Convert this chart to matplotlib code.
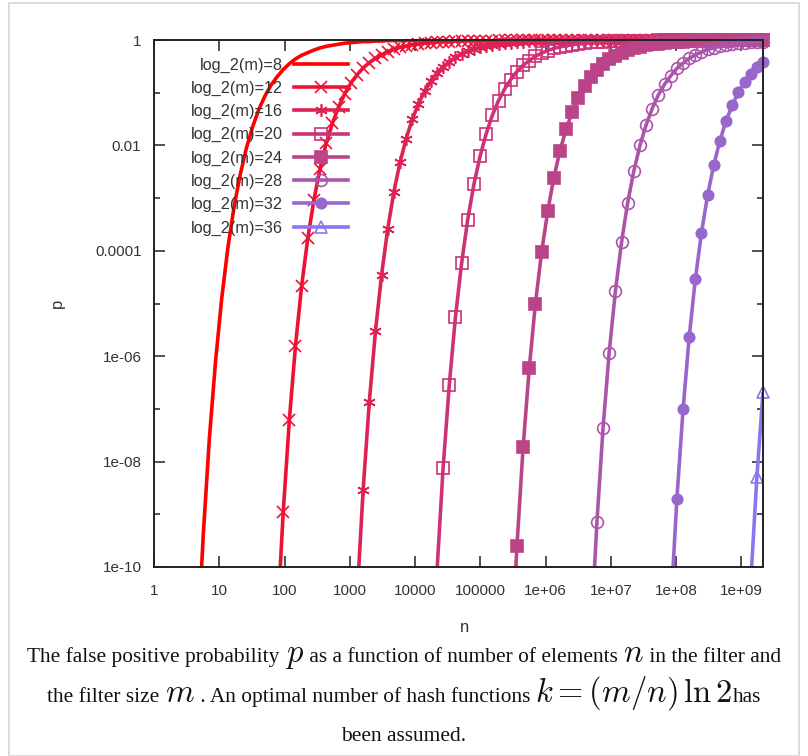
import numpy as np
import matplotlib
matplotlib.use('Agg')
import matplotlib.pyplot as plt
from matplotlib.lines import Line2D
from matplotlib.patches import Rectangle
from matplotlib.ticker import FixedLocator, NullLocator, NullFormatter

# log10(n) at the sample points (shared by all curves)
log_n = [0.000, 0.094, 0.189, 0.283, 0.377, 0.471, 0.566, 0.660, 0.754, 0.848,
         0.943, 1.037, 1.131, 1.225, 1.320, 1.414, 1.508, 1.602, 1.697, 1.791,
         1.885, 1.980, 2.074, 2.168, 2.262, 2.357, 2.451, 2.545, 2.639, 2.734,
         2.828, 2.922, 3.016, 3.111, 3.205, 3.299, 3.393, 3.488, 3.582, 3.676,
         3.770, 3.865, 3.959, 4.053, 4.148, 4.242, 4.336, 4.430, 4.525, 4.619,
         4.713, 4.807, 4.902, 4.996, 5.090, 5.184, 5.279, 5.373, 5.467, 5.561,
         5.656, 5.750, 5.844, 5.939, 6.033, 6.127, 6.221, 6.316, 6.410, 6.504,
         6.598, 6.693, 6.787, 6.881, 6.975, 7.070, 7.164, 7.258, 7.352, 7.447,
         7.541, 7.635, 7.729, 7.824, 7.918, 8.012, 8.107, 8.201, 8.295, 8.389,
         8.484, 8.578, 8.672, 8.766, 8.861, 8.955, 9.049, 9.143, 9.238, 9.332]

# log10(p) per curve, starting at sample index first_idx[k]
lp8 = [-11.69, -9.41, -7.57, -6.10, -4.91, -3.95, -3.18, -2.56, -2.06, -1.66,
       -1.33, -1.07, -0.86, -0.70, -0.56, -0.45, -0.36, -0.29, -0.24, -0.19,
       -0.15, -0.12, -0.10, -0.08, -0.06, -0.05, -0.04, -0.03, -0.03, -0.02,
       -0.02, -0.01, -0.01, -0.01, -0.01, -0.01,
       0.0, 0.0, 0.0, 0.0, 0.0, 0.0, 0.0, 0.0, 0.0, 0.0,
       0.0, 0.0, 0.0, 0.0, 0.0, 0.0, 0.0, 0.0, 0.0, 0.0,
       0.0, 0.0, 0.0, 0.0, 0.0, 0.0, 0.0, 0.0, 0.0, 0.0,
       0.0, 0.0, 0.0, 0.0, 0.0, 0.0, 0.0, 0.0, 0.0, 0.0,
       0.0, 0.0, 0.0, 0.0, 0.0, 0.0, 0.0, 0.0, 0.0, 0.0,
       0.0, 0.0, 0.0, 0.0, 0.0, 0.0, 0.0]
lp12 = [-11.13, -8.96, -7.21, -5.80, -4.67, -3.76, -3.03, -2.44, -1.96, -1.58,
        -1.27, -1.02, -0.82, -0.66, -0.53, -0.43, -0.35, -0.28, -0.22, -0.18,
        -0.14, -0.12, -0.09, -0.08, -0.06, -0.05, -0.04, -0.03, -0.03, -0.02,
        -0.02, -0.01, -0.01, -0.01, -0.01, -0.01,
        0.0, 0.0, 0.0, 0.0, 0.0, 0.0, 0.0, 0.0, 0.0, 0.0,
        0.0, 0.0, 0.0, 0.0, 0.0, 0.0, 0.0, 0.0, 0.0, 0.0,
        0.0, 0.0, 0.0, 0.0, 0.0, 0.0, 0.0, 0.0, 0.0, 0.0,
        0.0, 0.0, 0.0, 0.0, 0.0, 0.0, 0.0, 0.0, 0.0, 0.0,
        0.0, 0.0, 0.0, 0.0]
lp16 = [-10.60, -8.53, -6.87, -5.53, -4.45, -3.58, -2.88, -2.32, -1.87, -1.50,
        -1.21, -0.97, -0.78, -0.63, -0.51, -0.41, -0.33, -0.26, -0.21, -0.17,
        -0.14, -0.11, -0.09, -0.07, -0.06, -0.05, -0.04, -0.03, -0.02, -0.02,
        -0.02, -0.01, -0.01, -0.01, -0.01, -0.01,
        0.0, 0.0, 0.0, 0.0, 0.0, 0.0, 0.0, 0.0, 0.0, 0.0,
        0.0, 0.0, 0.0, 0.0, 0.0, 0.0, 0.0, 0.0, 0.0, 0.0,
        0.0, 0.0, 0.0, 0.0, 0.0, 0.0, 0.0, 0.0, 0.0, 0.0,
        0.0]
lp20 = [-10.09, -8.12, -6.54, -5.26, -4.24, -3.41, -2.74, -2.21, -1.78, -1.43,
        -1.15, -0.93, -0.75, -0.60, -0.48, -0.39, -0.31, -0.25, -0.20, -0.16,
        -0.13, -0.11, -0.09, -0.07, -0.06, -0.04, -0.04, -0.03, -0.02, -0.02,
        -0.02, -0.01, -0.01, -0.01, -0.01, -0.01,
        0.0, 0.0, 0.0, 0.0, 0.0, 0.0, 0.0, 0.0, 0.0, 0.0,
        0.0, 0.0, 0.0, 0.0, 0.0, 0.0, 0.0, 0.0]
lp24 = [-11.94, -9.61, -7.73, -6.23, -5.01, -4.03, -3.25, -2.61, -2.10, -1.69,
        -1.36, -1.10, -0.88, -0.71, -0.57, -0.46, -0.37, -0.30, -0.24, -0.19,
        -0.16, -0.13, -0.10, -0.08, -0.07, -0.05, -0.04, -0.03, -0.03, -0.02,
        -0.02, -0.01, -0.01, -0.01, -0.01, -0.01,
        0.0, 0.0, 0.0, 0.0, 0.0, 0.0]
lp28 = [-11.37, -9.15, -7.36, -5.93, -4.77, -3.84, -3.09, -2.49, -2.00, -1.61,
        -1.30, -1.04, -0.84, -0.68, -0.54, -0.44, -0.35, -0.28, -0.23, -0.18,
        -0.15, -0.12, -0.10, -0.08, -0.06, -0.05, -0.04, -0.03, -0.03]
lp32 = [-10.82, -8.71, -7.01, -5.64, -4.54, -3.66, -2.94, -2.37, -1.91, -1.53,
        -1.24, -0.99, -0.80, -0.64, -0.52, -0.42]
lp36 = [-10.31, -8.30, -6.68]

curves = [lp8, lp12, lp16, lp20, lp24, lp28, lp32, lp36]
first_idx = [7, 20, 33, 46, 58, 71, 84, 97]
labels = ['log_2(m)=8', 'log_2(m)=12', 'log_2(m)=16', 'log_2(m)=20',
          'log_2(m)=24', 'log_2(m)=28', 'log_2(m)=32', 'log_2(m)=36']

x_ticklabels = ['1', '10', '100', '1000', '10000', '100000',
                '1e+06', '1e+07', '1e+08', '1e+09']
y_ticklabels = ['1e-10', '1e-08', '1e-06', '0.0001', '0.01', '1']

colors = ['#ff0000', '#ee1133', '#dd2255', '#cc3377',
          '#bb4488', '#aa55aa', '#9966cc', '#8877ee']
markers = [None, 'x', (6, 2, 0), 's', 's', 'o', 'o', '^']
filled = [False, False, False, False, True, False, True, False]
msizes = [0, 8, 9, 8.5, 8, 8.5, 7.5, 9]

W, H = 808, 756
fig = plt.figure(figsize=(W / 100, H / 100), dpi=100)
ax = fig.add_axes([154 / W, 1 - 567 / H, (763 - 154) / W, (567 - 40) / H])

n_grid = 10.0 ** np.array(log_n)
handles = []
for lp, i0, lab, col, mk, fl, ms in zip(curves, first_idx, labels, colors,
                                         markers, filled, msizes):
    x = n_grid[i0:i0 + len(lp)]
    y = 10.0 ** np.array(lp)
    ax.plot(x, y, color=col, lw=2.6, solid_capstyle='butt')
    if mk is not None:
        ax.plot(x[1:], y[1:], ls='none', marker=mk, ms=ms, mew=1.2,
                mec=col, mfc=col if fl else 'none', clip_on=False)
    handles.append(Line2D([], [], color=col, lw=2.6, marker=mk, ms=ms,
                          mew=1.2, mec=col, mfc=col if fl else 'none'))

ax.set_xscale('log')
ax.set_yscale('log')
ax.set_xlim(1, 10 ** 9.332)
ax.set_ylim(1e-10, 1)

ax.xaxis.set_major_locator(FixedLocator([10.0 ** k for k in range(10)]))
ax.set_xticklabels(x_ticklabels)
ax.xaxis.set_minor_locator(NullLocator())
ax.yaxis.set_major_locator(FixedLocator([10.0 ** k for k in range(-10, 1, 2)]))
ax.set_yticklabels(y_ticklabels)
ax.yaxis.set_minor_locator(FixedLocator([10.0 ** k for k in range(-9, 0, 2)]))
ax.yaxis.set_minor_formatter(NullFormatter())

tick_col = '#333333'
ax.tick_params(which='both', direction='in', top=True, right=True,
               colors='#222222', labelcolor=tick_col, labelsize=11)
ax.tick_params(which='major', length=8, width=1.1)
ax.tick_params(which='minor', length=4, width=1.1)
ax.tick_params(axis='y', pad=9)
ax.tick_params(axis='x', pad=12)
for lbl in ax.get_xticklabels() + ax.get_yticklabels():
    lbl.set_fontfamily('Liberation Sans')
for sp in ax.spines.values():
    sp.set_linewidth(1.4)
    sp.set_color('#222222')

fig.text(57 / W, 1 - 303 / H, 'p', rotation=90, ha='center', va='center',
         fontsize=12, color=tick_col, family='Liberation Sans')
fig.text(465 / W, 1 - 628 / H, 'n', ha='center', va='center',
         fontsize=12, color=tick_col, family='Liberation Sans')

leg = ax.legend(handles=handles, labels=labels, loc='upper right',
                bbox_to_anchor=((348 - 154) / 609, (567 - 57.5) / 527),
                frameon=False, markerfirst=False, handlelength=3.3,
                handletextpad=0.68, labelspacing=0.5, borderpad=0,
                borderaxespad=0, numpoints=1,
                prop={'family': 'Liberation Sans', 'size': 11.7})
for t in leg.get_texts():
    t.set_color(tick_col)

# caption, laid out piece by piece so math can be larger than the text
plt.rcParams['mathtext.fontset'] = 'cm'
txt_kw = dict(family='Liberation Serif', fontsize=15.4, color='#111111')
math_kw = dict(fontsize=23.5, color='#111111')
caption = [
    (662, [('The false positive probability ', txt_kw), ('$p$', math_kw),
           (' as a function of number of elements ', txt_kw), ('$n$', math_kw),
           (' in the filter and', txt_kw)]),
    (702, [('the filter size ', txt_kw), ('$m$', math_kw),
           (' . An optimal number of hash functions ', txt_kw),
           (r'$k = (m/n)\,\ln 2$', math_kw), ('has', txt_kw)]),
    (741, [('been assumed.', txt_kw)]),
]
renderer = fig.canvas.get_renderer()
for ybase, parts in caption:
    items = [fig.text(0, 1 - ybase / H, s, va='baseline', ha='left', **kw)
             for s, kw in parts]
    widths = [t.get_window_extent(renderer).width for t in items]
    x = (W - sum(widths)) / 2
    for t, w in zip(items, widths):
        t.set_x(x / W)
        x += w

fig.patches.append(Rectangle((9 / W, 0), (799 - 9) / W, 1 - 3 / H,
                             transform=fig.transFigure, fill=False,
                             edgecolor='#d6d6d6', lw=1.2))

fig.savefig('out.png', dpi=100)
